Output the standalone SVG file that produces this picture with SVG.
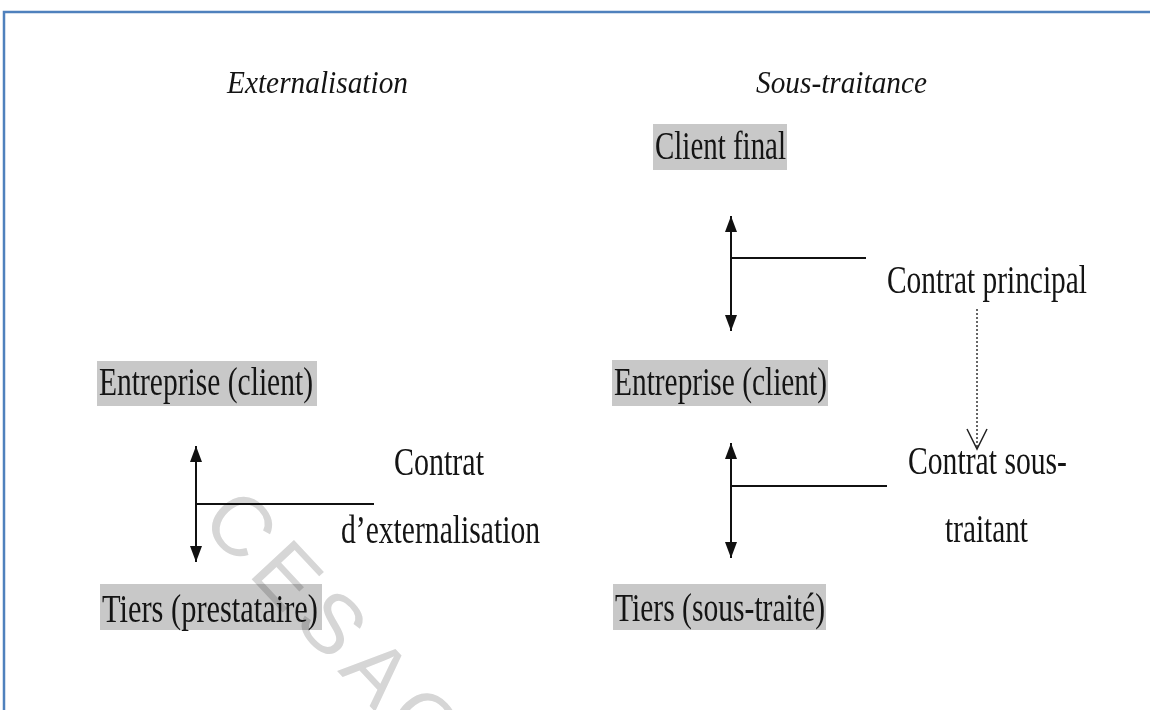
<svg xmlns="http://www.w3.org/2000/svg" width="1150" height="710" viewBox="0 0 1150 710">
<style>
.t{font-family:"Liberation Serif","Times New Roman",serif;font-size:39px;fill:#141414}
.h{font-family:"Liberation Serif","Times New Roman",serif;font-size:32px;font-style:italic;fill:#141414}
.box{fill:#c8c8c8}
.ln{stroke:#111;stroke-width:2;fill:none}
.dot{stroke:#333;stroke-width:1.5;stroke-dasharray:2 2;fill:none}
.wm{font-family:"Liberation Sans",Arial,sans-serif;font-size:84px;letter-spacing:10px;fill:#d6d6d6;mix-blend-mode:multiply}
</style>
<defs>
<marker id="ah" markerUnits="userSpaceOnUse" markerWidth="16" markerHeight="12" refX="16" refY="6" orient="auto-start-reverse">
<path d="M0,0 L16,6 L0,12 z" fill="#111"/>
</marker>
</defs>
<rect x="4" y="12" width="1200" height="800" fill="#fff" stroke="#4f81bd" stroke-width="2.5"/>
<g id="title-externalisation"><text class="h" x="227" y="93" textLength="181" lengthAdjust="spacingAndGlyphs">Externalisation</text></g>
<g id="title-sous-traitance"><text class="h" x="756" y="93" textLength="171" lengthAdjust="spacingAndGlyphs">Sous-traitance</text></g>
<g id="client-final"><rect class="box" x="653" y="124" width="134" height="46"/><text class="t" x="655" y="159" textLength="131" lengthAdjust="spacingAndGlyphs">Client final</text></g>
<g id="entreprise-left"><rect class="box" x="97" y="361" width="220" height="45"/><text class="t" x="99" y="395" textLength="214" lengthAdjust="spacingAndGlyphs">Entreprise (client)</text></g>
<g id="tiers-prestataire"><rect class="box" x="100" y="584" width="222" height="46"/><text class="t" x="102" y="622" textLength="216" lengthAdjust="spacingAndGlyphs">Tiers (prestataire)</text></g>
<g id="entreprise-right"><rect class="box" x="612" y="360" width="216" height="46"/><text class="t" x="614" y="395" textLength="213" lengthAdjust="spacingAndGlyphs">Entreprise (client)</text></g>
<g id="tiers-sous-traite"><rect class="box" x="613" y="584" width="213" height="46"/><text class="t" x="615" y="621" textLength="210" lengthAdjust="spacingAndGlyphs">Tiers (sous-traité)</text></g>
<g id="label-externalisation"><text class="t" x="394" y="475" textLength="90" lengthAdjust="spacingAndGlyphs">Contrat</text><text class="t" x="341" y="543" textLength="199" lengthAdjust="spacingAndGlyphs">d’externalisation</text></g>
<g id="label-principal"><text class="t" x="887" y="293" textLength="200" lengthAdjust="spacingAndGlyphs">Contrat principal</text></g>
<g id="label-sous-traitant"><text class="t" x="908" y="474" textLength="159" lengthAdjust="spacingAndGlyphs">Contrat sous-</text><text class="t" x="945" y="542" textLength="83" lengthAdjust="spacingAndGlyphs">traitant</text></g>
<g id="connectors">
<line class="ln" x1="196" y1="446" x2="196" y2="562" marker-start="url(#ah)" marker-end="url(#ah)"/>
<line class="ln" x1="196" y1="504" x2="374" y2="504"/>
<line class="ln" x1="731" y1="216" x2="731" y2="331" marker-start="url(#ah)" marker-end="url(#ah)"/>
<line class="ln" x1="731" y1="258" x2="866" y2="258"/>
<line class="ln" x1="731" y1="443" x2="731" y2="558" marker-start="url(#ah)" marker-end="url(#ah)"/>
<line class="ln" x1="731" y1="486" x2="887" y2="486"/>
<line class="dot" x1="977" y1="309" x2="977" y2="448"/>
<path d="M967,429 L977,449 L987,429" stroke="#222" stroke-width="1.5" fill="none"/>
</g>
<g id="watermark"><text class="wm" transform="translate(338,628) rotate(47)" x="0" y="30" text-anchor="middle">CESAG</text></g>
</svg>
